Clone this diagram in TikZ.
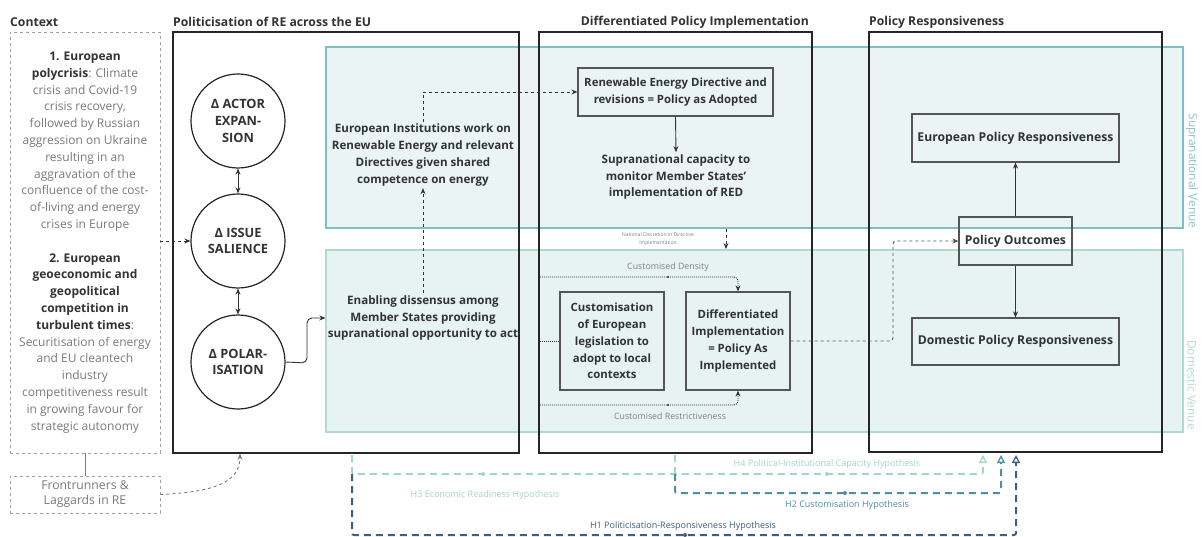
\documentclass[tikz,border=0pt]{standalone}
\usepackage{fontspec}
\setmainfont{Open Sans}
\usetikzlibrary{arrows.meta,calc}
\definecolor{ink}{HTML}{333333}
\definecolor{frame}{HTML}{262626}
\definecolor{boxc}{HTML}{555555}
\definecolor{ctxgray}{HTML}{7A7A7A}
\definecolor{ctxline}{HTML}{A0A0A0}
\definecolor{supfill}{HTML}{EAF4F5}
\definecolor{supline}{HTML}{7EC0C1}
\definecolor{domfill}{HTML}{E7F3F1}
\definecolor{domline}{HTML}{AEDAD3}
\definecolor{suptxt}{HTML}{8CC6C6}
\definecolor{domtxt}{HTML}{B4DBD6}
\definecolor{hthree}{HTML}{A3D3CF}
\definecolor{htwo}{HTML}{4F8FA6}
\definecolor{hone}{HTML}{3F5F7F}
\definecolor{smallgray}{HTML}{808080}
\begin{document}
\begin{tikzpicture}[x=1bp,y=-1bp,
  framebox/.style={draw=frame, line width=1.4bp, inner sep=0pt},
  venuebox/.style={line width=1.1bp, inner sep=0pt},
  circ/.style={circle, draw=frame, line width=1.2bp, fill=white, minimum size=94bp, inner sep=0pt,
    font=\bfseries\fontsize{12.8bp}{16.8bp}\selectfont, text=ink, align=center},
  stepbox/.style={draw=boxc, line width=1.2bp, inner sep=0pt,
    font=\bfseries\fontsize{11.4bp}{16.8bp}\selectfont, text=ink, align=center},
  bigbox/.style={stepbox, font=\bfseries\fontsize{12.2bp}{16.8bp}\selectfont},
  btxt/.style={font=\bfseries\fontsize{11.6bp}{16.8bp}\selectfont, text=ink, align=center, inner sep=2bp},
  head/.style={font=\bfseries\fontsize{12.2bp}{14bp}\selectfont, text=ink, inner sep=0pt},
  smalllbl/.style={font=\fontsize{8.8bp}{10bp}\selectfont, text=smallgray, inner sep=1bp},
  hyplbl/.style={font=\fontsize{9bp}{10bp}\selectfont, inner sep=1bp},
  conn/.style={draw=ink, line width=0.9bp, -{Stealth[length=6bp,width=5bp]}},
  dconn/.style={conn, dash pattern=on 3bp off 3bp},
  dotconn/.style={conn, dash pattern=on 1bp off 1bp, rounded corners=4bp},
  hyp/.style={line width=2bp, dash pattern=on 7bp off 5bp, rounded corners=2bp},
  hyptip/.style={-{Triangle[open, length=8bp, width=8bp, line width=1.3bp]}},
]
\useasboundingbox (0,0) rectangle (1203,537);
\fill[white] (0,0) rectangle (1203,537);

% venues
\node[venuebox, draw=supline, fill=supfill, minimum width=857bp, minimum height=181bp] (sup) at (754.5,137.5) {};
\node[venuebox, draw=domline, fill=domfill, minimum width=857bp, minimum height=182bp] (dom) at (754.5,341) {};
\node[rotate=-90, font=\fontsize{11.8bp}{13bp}\selectfont, text=suptxt, inner sep=0pt] (suplbl) at (1192,171) {Supranational Venue};
\node[rotate=-90, font=\fontsize{11.8bp}{13bp}\selectfont, text=domtxt, inner sep=0pt] (domlbl) at (1192,385) {Domestic Venue};

% headers
\node[head, anchor=west] (hctx) at (10,22) {Context};
\node[head, anchor=west] (hpol) at (173,22) {Politicisation of RE across the EU};
\node[head, anchor=east] (hdif) at (809,22) {Differentiated Policy Implementation};
\node[head, anchor=west] (hres) at (869,22) {Policy Responsiveness};

% frames
\node[framebox, minimum width=346bp, minimum height=421bp] (polf) at (346,242.5) {};
\node[framebox, minimum width=273bp, minimum height=421bp] (diff) at (675.5,242.5) {};
\node[framebox, minimum width=293bp, minimum height=420bp] (resf) at (1015.5,242) {};

% context
\node[draw=ctxline, line width=0.9bp, dash pattern=on 3bp off 3bp, minimum width=150bp, minimum height=421bp,
  inner sep=0pt, font=\fontsize{12bp}{16.8bp}\selectfont, text=ctxgray, align=center] (ctx) at (85,242.5)
 {\textbf{\textcolor{ink}{1. European}}\\
  \textbf{\textcolor{ink}{polycrisis}}: Climate\\
  crisis and Covid-19\\
  crisis recovery,\\
  followed by Russian\\
  aggression on Ukraine\\
  resulting in an\\
  aggravation of the\\
  confluence of the cost-\\
  of-living and energy\\
  crises in Europe\\
  ~\\
  \textbf{\textcolor{ink}{2. European}}\\
  \textbf{\textcolor{ink}{geoeconomic and}}\\
  \textbf{\textcolor{ink}{geopolitical}}\\
  \textbf{\textcolor{ink}{competition in}}\\
  \textbf{\textcolor{ink}{turbulent times}}:\\
  Securitisation of energy\\
  and EU cleantech\\
  industry\\
  competitiveness result\\
  in growing favour for\\
  strategic autonomy};
\node[draw=ctxline, line width=0.9bp, dash pattern=on 3bp off 3bp, minimum width=150bp, minimum height=37bp,
  inner sep=0pt, font=\fontsize{12.2bp}{15bp}\selectfont, text=ctxgray, align=center] (fr) at (85,494.5)
 {Frontrunners \&\\Laggards in RE};
\draw[draw=ctxgray, line width=0.9bp] (ctx.south) -- (fr.north);
\draw[dconn, draw=ctxgray] (fr.east) .. controls (215,492) and (240,482) .. (polf.south -| 240,0);

% circles
\node[circ] (ae) at (238,121) {Δ ACTOR\\EXPAN-\\SION};
\node[circ] (is) at (238,241) {Δ ISSUE\\SALIENCE};
\node[circ] (pol) at (238,362) {Δ POLAR-\\ISATION};
\draw[draw=ink, line width=1bp, {Stealth[length=6bp,width=5bp]}-{Stealth[length=6bp,width=5bp]}] (ae.south) -- (is.north);
\draw[draw=ink, line width=1bp, {Stealth[length=6bp,width=5bp]}-{Stealth[length=6bp,width=5bp]}] (is.south) -- (pol.north);
\draw[dconn] (ctx.east |- is.west) -- (is.west);

% politicisation content
\node[btxt] (ed) at (423,318) {Enabling dissensus among\\Member States providing\\supranational opportunity to act};
\node[btxt] (ei) at (423,155) {European Institutions work on\\Renewable Energy and relevant\\Directives given shared\\competence on energy};
\coordinate (polbend) at (307,363);
\draw[conn, rounded corners=5bp] (pol.east) -- (polbend) |- (dom.west |- 0,318);
\draw[dconn] (ed.north) -- (ei.south);

% differentiated content
\node[stepbox, minimum width=195bp, minimum height=48bp] (red) at (675.5,92) {Renewable Energy Directive and\\revisions = Policy as Adopted};
\draw[dconn] (ei.north) |- (red.west);
\node[btxt] (sc) at (676,177) {Supranational capacity to\\monitor Member States'\\implementation of RED};
\draw[conn] (red.south) -- (sc.north);
\node[font=\fontsize{5bp}{7.5bp}\selectfont, text=smallgray, align=center, inner sep=0pt] (nd) at (658,239) {National Discretion in Directive\\Implementation};
\coordinate (ndtop) at (726,229);
\coordinate (ndbot) at (726,249);
\draw[dconn] (ndtop) -- (ndbot);

\node[stepbox, minimum width=104bp, minimum height=98bp] (cus) at (612,341) {Customisation\\of European\\legislation to\\adopt to local\\contexts};
\node[stepbox, minimum width=104bp, minimum height=98bp] (di) at (738,341) {Differentiated\\Implementation\\= Policy As\\Implemented};
\coordinate (cdstart) at (540,277);
\coordinate (cmstart) at (540,341);
\coordinate (crstart) at (540,405);
\draw[dotconn] (cdstart) -| (di.north);
\draw[ink, line width=0.9bp, dash pattern=on 1bp off 1bp] (cmstart) -- (cus.west);
\draw[dotconn] (crstart) -| (di.south);
\fill[ink] (668,277) circle (1.2bp) (668,405) circle (1.2bp);
\node[smalllbl] (cdl) at (668,267) {Customised Density};
\node[smalllbl] (crl) at (670,416) {Customised Restrictiveness};

% responsiveness content
\node[bigbox, minimum width=113bp, minimum height=48bp] (po) at (1015.5,241) {Policy Outcomes};
\node[bigbox, minimum width=207bp, minimum height=48bp] (epr) at (1015.5,138) {European Policy Responsiveness};
\node[bigbox, minimum width=207bp, minimum height=47bp] (dpr) at (1015.5,341.5) {Domestic Policy Responsiveness};
\draw[conn] (po.north) -- (epr.south);
\draw[conn] (po.south) -- (dpr.north);
\coordinate (dibend) at (893,341);
\draw[dconn, rounded corners=3bp, draw=boxc] (di.east) -- (dibend) |- (po.west);

% hypotheses
\coordinate (hpol) at (352,455);
\coordinate (hdif) at (675,455);
\coordinate (h3end) at (983,455);
\coordinate (h2end) at (1001,455);
\coordinate (h1end) at (1016,455);
\draw[hyp, hyptip, draw=hthree, line width=1.6bp] (hpol) -- (352,474) -| (h3end);
\draw[hyp, draw=hthree, line width=1.6bp] (hdif) -- (675,474);
\draw[hyp, hyptip, draw=htwo] (675,474) -- (675,493) -| (h2end);
\draw[hyp, hyptip, draw=hone] (352,474) -- (352,535) -| (h1end);
\fill[hthree] (483,474) circle (2bp) (827,474) circle (2bp);
\fill[htwo] (845,493) circle (2bp);
\fill[hone] (685,535) circle (2bp);
\node[hyplbl, text=hthree] (h3l) at (485,495) {H3 Economic Readiness Hypothesis};
\node[hyplbl, text=hthree] (h4l) at (827,464) {H4 Political-Institutional Capacity Hypothesis};
\node[hyplbl, text=htwo] (h2l) at (847,505) {H2 Customisation Hypothesis};
\node[hyplbl, text=hone] (h1l) at (683,526) {H1 Politicisation-Responsiveness Hypothesis};
\end{tikzpicture}
\end{document}
